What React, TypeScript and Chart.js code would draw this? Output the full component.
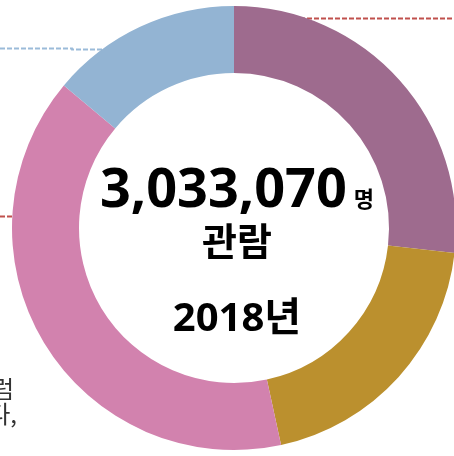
import React, { useEffect, useRef } from "react";
import { Chart, registerables } from "chart.js";

Chart.register(...registerables);

const categories: string[] = ["A", "B", "C", "D"];
const shares: number[] = [26.8, 19.8, 39.5, 13.9];
const colors: string[] = ["#9e6b8e", "#bb902e", "#d282ae", "#93b4d3"];
const totalLabel = "3,033,070";
const totalUnit = "명";
const subLabel = "관람";
const yearLabel = "2018년";
const sideLines: string[] = ["럼", "다,"];

const W = 468;
const H = 456;

const overlay = {
  id: "overlay",
  beforeDatasetsDraw(chart: any) {
    const ctx = chart.ctx as CanvasRenderingContext2D;
    ctx.save();
    ctx.setLineDash([5, 2]);
    ctx.lineWidth = 2;
    ctx.strokeStyle = "#c0504d";
    ctx.beginPath();
    ctx.moveTo(300, 18.5);
    ctx.lineTo(W, 18.5);
    ctx.stroke();
    ctx.beginPath();
    ctx.moveTo(0, 216.5);
    ctx.lineTo(20, 216.5);
    ctx.stroke();
    ctx.strokeStyle = "#9bbbd9";
    ctx.lineWidth = 1.8;
    ctx.beginPath();
    ctx.moveTo(0, 48.5);
    ctx.lineTo(72, 48.5);
    ctx.lineTo(72, 49.5);
    ctx.lineTo(108, 49.5);
    ctx.stroke();
    ctx.restore();
  },
  afterDraw(chart: any) {
    const ctx = chart.ctx as CanvasRenderingContext2D;
    ctx.save();
    ctx.fillStyle = "#000";
    ctx.textBaseline = "alphabetic";
    const cx = 237;
    const bigFont = 'bold 54px "Open Sans", "Noto Sans CJK KR", sans-serif';
    const unitFont = 'bold 22px "Noto Sans CJK KR", sans-serif';
    ctx.font = bigFont;
    const w1 = ctx.measureText(totalLabel).width;
    ctx.font = unitFont;
    const w2 = ctx.measureText(totalUnit).width;
    const gap = 7;
    const start = cx - (w1 + gap + w2) / 2;
    ctx.textAlign = "left";
    ctx.font = bigFont;
    ctx.fillText(totalLabel, start, 207);
    ctx.font = unitFont;
    ctx.fillText(totalUnit, start + w1 + gap, 207);
    ctx.textAlign = "center";
    ctx.font = 'bold 38px "Noto Sans CJK KR", sans-serif';
    ctx.fillText(subLabel, cx, 255);
    ctx.font = 'bold 40px "Open Sans", "Noto Sans CJK KR", sans-serif';
    ctx.fillText(yearLabel, cx, 331);
    ctx.fillStyle = "#333";
    ctx.textAlign = "right";
    ctx.font = '24px "Noto Sans CJK KR", sans-serif';
    ctx.fillText(sideLines[0], 14, 398);
    ctx.fillText(sideLines[1], 17, 423);
    ctx.restore();
  },
};

export default function App() {
  const ref = useRef<HTMLCanvasElement | null>(null);
  useEffect(() => {
    if (!ref.current) return;
    const chart = new Chart(ref.current, {
      type: "doughnut",
      data: {
        labels: categories,
        datasets: [
          {
            data: shares,
            backgroundColor: colors,
            borderWidth: 0,
          },
        ],
      },
      options: {
        responsive: false,
        animation: false,
        cutout: 155,
        layout: { padding: { left: 12, right: 12, top: 6, bottom: 6 } },
        plugins: {
          legend: { display: false },
          tooltip: { enabled: false },
        },
        events: [],
      },
      plugins: [overlay],
    });
    return () => chart.destroy();
  }, []);
  return (
    <div
      style={{
        position: "fixed",
        left: 0,
        top: 0,
        width: 454,
        height: 456,
        overflow: "hidden",
        background: "#fff",
      }}
    >
      <canvas ref={ref} width={W} height={H} style={{ display: "block", width: W, height: H }} />
    </div>
  );
}
